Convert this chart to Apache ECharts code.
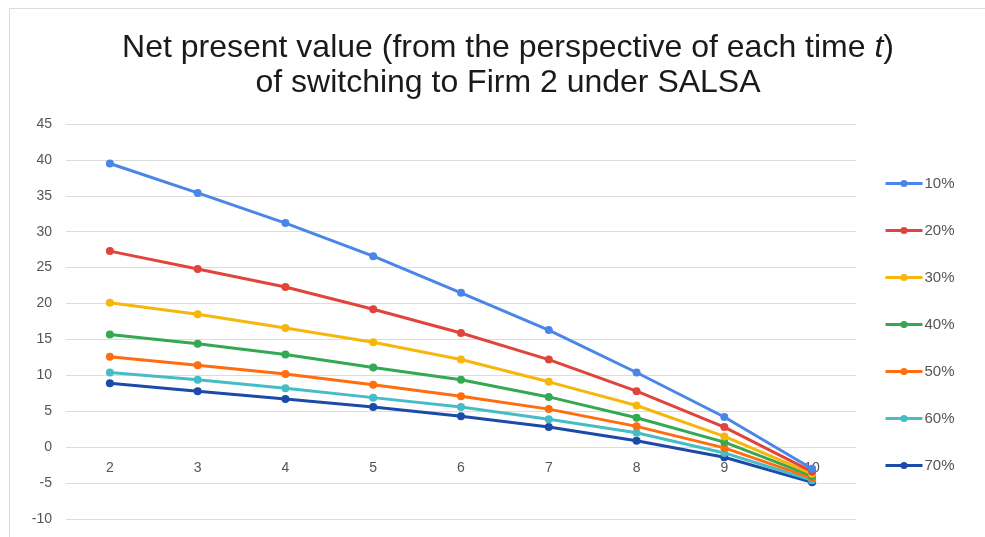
<!DOCTYPE html>
<html>
<head>
<meta charset="utf-8">
<script src="https://cdn.jsdelivr.net/npm/echarts@6/dist/echarts.min.js"></script>
<style>
html,body{margin:0;padding:0;background:#fff;}
#frame{position:absolute;left:9px;top:8px;width:990px;height:540px;border:1px solid #dcdcdc;box-sizing:border-box;}
#chart{position:absolute;left:0;top:0;width:985px;height:537px;}
</style>
</head>
<body>
<div id="frame"></div>
<div id="chart"></div>
<script>
const categories = ['2','3','4','5','6','7','8','9','10'];
const seriesNames = ['10%','20%','30%','40%','50%','60%','70%'];
const s10 = [39.5, 35.4, 31.2, 26.6, 21.5, 16.3, 10.4, 4.2, -3.0];
const s20 = [27.3, 24.8, 22.3, 19.2, 15.9, 12.2, 7.8, 2.8, -3.4];
const s30 = [20.1, 18.5, 16.6, 14.6, 12.2, 9.1, 5.8, 1.5, -3.7];
const s40 = [15.7, 14.4, 12.9, 11.1, 9.4, 7.0, 4.1, 0.7, -4.0];
const s50 = [12.6, 11.4, 10.2, 8.7, 7.1, 5.3, 2.9, -0.1, -4.3];
const s60 = [10.4, 9.4, 8.2, 6.9, 5.6, 3.9, 2.0, -0.8, -4.6];
const s70 = [8.9, 7.8, 6.7, 5.6, 4.3, 2.8, 0.9, -1.4, -4.9];
const colors = ['#4a86e8','#e0443a','#f6b60c','#34a853','#ff6d0f','#46bdc6','#1b4aa8'];
const allSeries = [s10, s20, s30, s40, s50, s60, s70];

const FONT = 'Liberation Sans, Arial, sans-serif';
const chart = echarts.init(document.getElementById('chart'), null, {renderer:'canvas'});
chart.setOption({
  animation: false,
  color: colors,
  title: {
    text: 'Net present value (from the perspective of each time {i|t})\nof switching to Firm 2 under SALSA',
    left: 503, textAlign: 'center', top: 26,
    textStyle: {
      fontFamily: FONT, fontSize: 32, fontWeight: 'normal',
      color: '#1a1a1a', lineHeight: 35,
      rich: { i: { fontStyle: 'italic', fontFamily: FONT, fontSize: 32, color: '#1a1a1a', lineHeight: 35 } }
    }
  },
  grid: { left: 66, right: 129, top: 124, bottom: 18, outerBoundsMode: 'none', containLabel: false },
  legend: {
    orient: 'vertical', left: 879, top: 171,
    itemWidth: 37, itemHeight: 9, itemGap: 32,
    lineStyle: { width: 3 },
    textStyle: { fontFamily: FONT, fontSize: 15, color: '#555', padding: [0,0,0,-3] },
    data: seriesNames
  },
  xAxis: {
    type: 'category', data: categories, boundaryGap: true,
    offset: -72,
    axisLine: { show: false, onZero: false }, axisTick: { show: false },
    axisLabel: { fontFamily: FONT, fontSize: 14, color: '#555', margin: 14 },
    splitLine: { show: false }
  },
  yAxis: {
    type: 'value', min: -10, max: 45, interval: 5,
    axisLine: { show: false }, axisTick: { show: false },
    axisLabel: { fontFamily: FONT, fontSize: 14, color: '#555', margin: 14 },
    splitLine: { lineStyle: { color: '#dcdcdc', width: 1 } }
  },
  series: allSeries.map((d, i) => ({
    name: seriesNames[i], type: 'line', data: d,
    symbol: 'circle', symbolSize: 8, showSymbol: true,
    lineStyle: { width: 3, color: colors[i] },
    itemStyle: { color: colors[i] },
    z: 10 - i
  }))
});
</script>
</body>
</html>
